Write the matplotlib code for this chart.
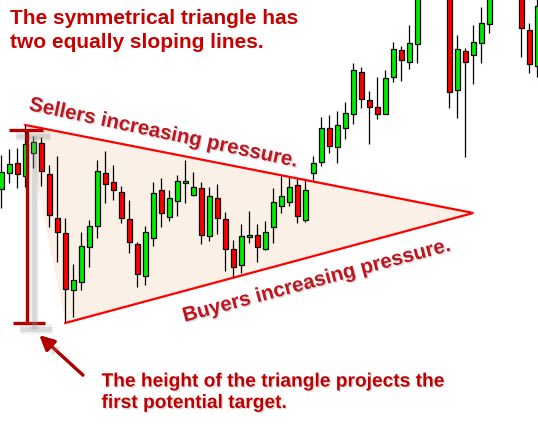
import numpy as np
import matplotlib
matplotlib.use("Agg")
import matplotlib.pyplot as plt
import matplotlib.patheffects as pe
from matplotlib.patches import Polygon, FancyArrowPatch

# Candle data (one candle per index) ======================================== #
opens = [236, 252, 262, 249, 272, 282, 251, 207, 192, 135,
         143, 178, 199, 252, 243, 233, 206, 181, 149, 187,
         235, 208, 224, 242, 230, 237, 189, 227, 206, 176,
         160, 188.5, 190, 176, 198, 219, 223, 240, 205, 252,
         263, 297, 278, 297, 311, 353, 325, 318, 311, 348,
         375, 363, 381, 455, 475, 450, 445, 335, 374, 370,
         382, 401, 435, 455, 445, 435, 395, 359]
highs = [270, 276, 277, 300, 289, 288, 260, 269, 207, 161,
         193, 205, 265, 274, 260, 239, 225, 183, 199, 243,
         247, 235, 250, 265, 253, 243, 238, 241, 213, 185,
         201, 214, 201, 204, 237, 249, 249, 247, 245, 269,
         308, 310, 314, 323, 362, 358, 334, 348, 355, 383,
         379, 400, 465, 485, 495, 465, 455, 390, 377, 400,
         418, 440, 460, 470, 460, 440, 402, 430]
lows = [217, 242, 237, 238, 257, 239, 198, 163, 102, 108,
        135, 158, 187, 222, 225, 202, 172, 138, 140, 179,
        198, 204, 209, 222, 229, 181, 184, 191, 154, 147,
        152, 182, 163, 175, 182, 212, 219, 202, 203, 245,
        259, 272, 262, 286, 301, 317, 281, 306, 311, 343,
        344, 356, 362, 440, 445, 430, 317, 307, 268, 341,
        362, 392, 428, 433, 430, 368, 352, 348]
closes = [253, 261, 251, 281, 283, 254, 210, 193, 136, 145,
          179, 199, 254, 241, 235, 207, 183, 151, 193, 232,
          212, 227, 244, 244, 238, 190, 229, 207, 176, 158,
          189, 190.5, 178, 193, 223, 229, 238, 209, 235, 262,
          297, 279, 300, 312, 355, 326, 318, 311, 347, 376,
          365, 382, 455, 475, 450, 440, 333, 376, 363, 383,
          402, 435, 455, 445, 440, 397, 361, 419]

# Annotation texts ---------------------------------------------------------- #
title_text = "The symmetrical triangle has\ntwo equally sloping lines."
sellers_text = "Sellers increasing pressure."
buyers_text = "Buyers increasing pressure."
target_text = "The height of the triangle projects the\nfirst potential target."

# Triangle: upper line from candle 3 high, lower line from candle 8 low ----- #
apex = (59, 212)

W, H = 538, 425
def px(xp, yp):
    """ pixel position -> data position (index, price) """
    return ((xp - 1.3) / 8.0, H - yp)

o = np.array(opens, float)
h = np.array(highs, float)
l = np.array(lows, float)
c = np.array(closes, float)
idx = np.arange(len(o))
up = c >= o

fig = plt.figure(figsize=(W / 100, H / 100), dpi=100)
ax = fig.add_axes([0, 0, 1, 1])
x0, _ = px(0, 0)
x1, _ = px(W, 0)
ax.set_xlim(x0, x1)
ax.set_ylim(0, H)
ax.axis("off")

# Triangle fill and lines ==================================================== #
top_start = (3, h[3])
bot_start = (8, l[8])
ax.add_patch(Polygon([top_start, apex, bot_start], closed=True,
                     facecolor="#faf0e6", edgecolor="none", zorder=1))
ax.plot([top_start[0], apex[0], bot_start[0]],
        [top_start[1], apex[1], bot_start[1]],
        color="#ff0000", lw=1.6, zorder=4, solid_joinstyle="miter")

# Candles ===================================================================== #
ax.vlines(idx, l, h, color="black", lw=0.9, zorder=2)
ax.bar(idx, np.abs(c - o), bottom=np.minimum(o, c), width=0.62,
       color=np.where(up, "#00ee00", "#ff0000"), edgecolor="black",
       lw=0.9, zorder=3)

# Height marker (soft shadow = a few faint offset strokes) ------------------ #
shadow = [pe.SimpleLineShadow(offset=(5, -4), shadow_color="#999999",
                              alpha=0.15, linewidth=7),
          pe.SimpleLineShadow(offset=(5, -4), shadow_color="#999999",
                              alpha=0.25, linewidth=3.5),
          pe.Normal()]
bx, _ = px(26.7, 0)
bar_top = px(0, 130)[1]
bar_bot = px(0, 323)[1]
for yy, xa, xb in [(bar_top, 9, 43), (bar_bot, 13, 45)]:
    ax.plot([px(xa, 0)[0], px(xb, 0)[0]], [yy, yy], color="#b00000",
            lw=2.4, zorder=5, solid_capstyle="butt", path_effects=shadow)
ax.plot([bx, bx], [bar_top, bar_bot], color="#b00000", lw=2.4, zorder=5,
        solid_capstyle="butt", path_effects=shadow)

# Arrow --------------------------------------------------------------------- #
arrow = FancyArrowPatch(px(85, 377), px(37.5, 333.5), arrowstyle="-|>",
                        mutation_scale=22, color="#b00000", lw=2.2, zorder=5)
arrow.set_path_effects([pe.withSimplePatchShadow(offset=(4, -4),
                        shadow_rgbFace="#999999", alpha=0.25), pe.Normal()])
ax.add_patch(arrow)

# Texts ====================================================================== #
font = "Liberation Sans"
txt_shadow = [pe.SimplePatchShadow(offset=(1, -1), shadow_rgbFace="#999999",
                                   alpha=0.35), pe.Normal()]
ax.text(*px(10, 9), title_text, fontsize=15, family=font,
        weight="bold", color="#c80000", ha="left", va="top",
        linespacing=1.33, zorder=6)
ax.text(*px(163, 133), sellers_text, fontsize=14.8, family=font,
        weight="bold", color="#c0141e", ha="center", va="center",
        rotation=-12, rotation_mode="anchor", zorder=6,
        path_effects=txt_shadow)
ax.text(*px(316, 281), buyers_text, fontsize=14.8, family=font,
        weight="bold", color="#c0141e", ha="center", va="center",
        rotation=15, rotation_mode="anchor", zorder=6,
        path_effects=txt_shadow)
ax.text(*px(101.5, 373.5), target_text, fontsize=13.8, family=font,
        weight="bold", color="#c00000", ha="left", va="top",
        linespacing=1.34, zorder=6, path_effects=txt_shadow)

fig.savefig("out.png", dpi=100)
